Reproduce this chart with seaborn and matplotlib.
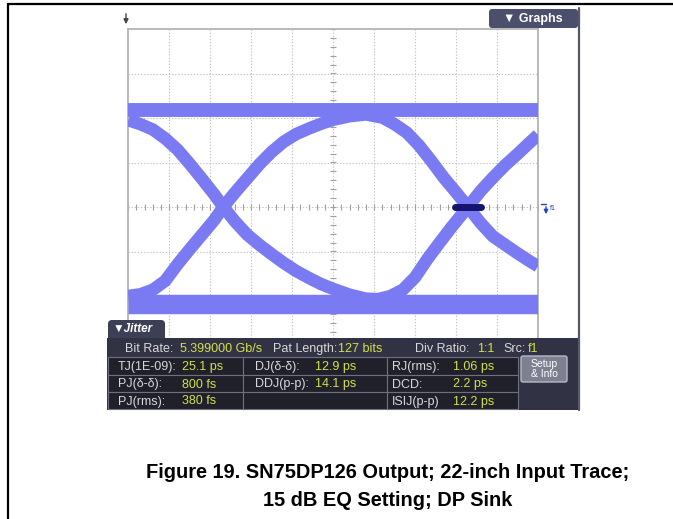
import matplotlib
matplotlib.use('Agg')
import numpy as np
import pandas as pd
import matplotlib.pyplot as plt
import seaborn as sns
from matplotlib.patches import FancyBboxPatch, Rectangle

# --- eye diagram traces ---
# x, y in graticule divisions (x: 0..10, y: 0 = centre line, +-4 = edges)
rail_x = [0.0, 10.0]
top_rail_y = [2.18, 2.18]
bottom_rail_y = [-2.17, -2.17]

# 0 -> 1 -> 0 trace (rises through left crossing, falls through right one)
dome_x = [0.0, 0.3, 0.6, 0.9, 1.2, 1.5, 1.8, 2.1, 2.32, 2.6, 2.9, 3.2, 3.5, 3.8,
          4.1, 4.4, 4.7, 5.0, 5.4, 5.8, 6.2, 6.5, 6.8, 7.1, 7.4, 7.7, 8.0, 8.29,
          8.6, 8.9, 9.2, 9.5, 9.8, 10.0]
dome_y = [-2.00, -1.96, -1.86, -1.66, -1.29, -0.95, -0.62, -0.29, 0.0, 0.32, 0.64,
          0.96, 1.24, 1.47, 1.64, 1.76, 1.87, 1.96, 2.04, 2.08, 2.01, 1.86, 1.67,
          1.38, 1.03, 0.66, 0.33, 0.0, -0.36, -0.66, -0.85, -1.04, -1.22, -1.33]

# 1 -> 0 -> 1 trace (falls through left crossing, rises through right one)
bowl_x = [0.0, 0.3, 0.6, 0.9, 1.2, 1.5, 1.8, 2.1, 2.32, 2.6, 2.9, 3.2, 3.5, 3.8,
          4.1, 4.4, 4.7, 5.0, 5.4, 5.8, 6.1, 6.4, 6.7, 7.0, 7.3, 7.6, 7.9, 8.29,
          8.6, 8.9, 9.2, 9.5, 9.8, 10.0]
bowl_y = [1.95, 1.86, 1.74, 1.54, 1.29, 0.97, 0.63, 0.28, 0.0, -0.32, -0.62, -0.85,
          -1.06, -1.26, -1.44, -1.59, -1.73, -1.84, -1.97, -2.06, -2.07, -2.00,
          -1.86, -1.58, -1.17, -0.80, -0.44, 0.0, 0.36, 0.66, 0.94, 1.19, 1.45, 1.62]

# dense hit spot at the right crossing
spot_x = [7.97, 8.62]
spot_y = [0.0, 0.0]

# --- jitter readout ---
header_labels = ['Bit Rate:', 'Pat Length:', 'Div Ratio:', 'Src:']
header_values = ['5.399000 Gb/s', '127 bits', '1:1', 'f1']
jitter_labels = [['TJ(1E-09):', 'DJ(δ-δ):', 'RJ(rms):'],
                 ['PJ(δ-δ):', 'DDJ(p-p):', 'DCD:'],
                 ['PJ(rms):', '', 'ISIJ(p-p)']]
jitter_values = [['25.1 ps', '12.9 ps', '1.06 ps'],
                 ['800 fs', '14.1 ps', '2.2 ps'],
                 ['380 fs', '', '12.2 ps']]

caption = ['Figure 19. SN75DP126 Output; 22-inch Input Trace;',
           '15 dB EQ Setting; DP Sink']

trace_color = '#7a7af2'
label_color = '#d8d8dc'
value_color = '#d4e04a'

sns.set_style('white')
plt.rcParams['font.family'] = ['Liberation Sans', 'DejaVu Sans']

W, H = 673, 519
fig = plt.figure(figsize=(W / 100, H / 100), dpi=100)

# eye axes: graticule spans px x 128..538, y 29..385
ax = fig.add_axes([128.3 / W, 1 - 385 / H, 409.7 / W, 356 / H], zorder=1)
ax.set_xlim(0, 10)
ax.set_ylim(-4, 4)
ax.set_xticks([])
ax.set_yticks([])
for s in ax.spines.values():
    s.set_color('#b4b4b4')
    s.set_linewidth(1.3)

grid_kw = dict(color='#c4c4c4', linestyle=(0, (1.2, 1.6)), linewidth=0.8, zorder=0)
for gx in range(1, 10):
    ax.axvline(gx, **grid_kw)
for gy in range(-3, 4):
    ax.axhline(gy, **grid_kw)
# centre lines carry minor tick marks every 0.2 division
minor = np.arange(0, 10.01, 0.2)
ax.plot(minor, np.zeros_like(minor), '|', color='#a0a0a0', markersize=4, mew=0.8, zorder=0.5)
minor_y = np.arange(-4, 4.01, 0.2)
ax.plot(np.full_like(minor_y, 5.0), minor_y, '_', color='#a0a0a0', markersize=4, mew=0.8, zorder=0.5)

rails = pd.DataFrame({'x': rail_x * 2, 'y': top_rail_y + bottom_rail_y,
                      'trace': ['top'] * 2 + ['bottom'] * 2})
sns.lineplot(data=rails[rails.trace == 'top'], x='x', y='y', ax=ax, color=trace_color,
             linewidth=10, solid_capstyle='butt', estimator=None, zorder=3)
sns.lineplot(data=rails[rails.trace == 'bottom'], x='x', y='y', ax=ax, color=trace_color,
             linewidth=14, solid_capstyle='butt', estimator=None, zorder=3)
sns.lineplot(x=dome_x, y=dome_y, ax=ax, color=trace_color, linewidth=9,
             solid_capstyle='butt', solid_joinstyle='round', estimator=None, sort=False, zorder=3)
sns.lineplot(x=bowl_x, y=bowl_y, ax=ax, color=trace_color, linewidth=9,
             solid_capstyle='butt', solid_joinstyle='round', estimator=None, sort=False, zorder=3)
sns.lineplot(x=spot_x, y=spot_y, ax=ax, color='#14146e', linewidth=5,
             solid_capstyle='round', estimator=None, zorder=4)
ax.set_xlabel('')
ax.set_ylabel('')

# overlay in pixel coordinates for the scope chrome, page frame and caption
ui = fig.add_axes([0, 0, 1, 1], zorder=2)
ui.set_xlim(0, W)
ui.set_ylim(H, 0)
ui.axis('off')
ui.patch.set_alpha(0)

# page frame
ui.plot([8, W], [4, 4], color='black', linewidth=1.6)
ui.plot([8, 8], [4, H], color='black', linewidth=1.6)

# screen right border
ui.plot([579, 579], [8, 410], color='#55576a', linewidth=1.6)

# trigger marker at top left
ui.annotate('', xy=(126, 27), xytext=(126, 11),
            arrowprops=dict(arrowstyle='-|>', color='#444444', lw=1.0, mutation_scale=7))

# Graphs tab
ui.add_patch(FancyBboxPatch((489, 9), 89, 19, boxstyle='round,pad=0,rounding_size=3',
                            facecolor='#4b4f6b', edgecolor='none'))
ui.text(533, 19, '▼ Graphs', color='white', fontsize=9, fontweight='bold',
        ha='center', va='center')

# f1 marker on the right of the centre line
ui.annotate('', xy=(546, 217), xytext=(546, 204),
            arrowprops=dict(arrowstyle='-|>', color='#2040d0', lw=1.0, mutation_scale=6))
ui.plot([541, 546], [204, 204], color='#2040d0', linewidth=1.0)
ui.text(550, 209, 'f1', color='#2040d0', fontsize=5, ha='left', va='center')

# Jitter tab and panel
ui.add_patch(FancyBboxPatch((108, 320), 57, 22, boxstyle='round,pad=0,rounding_size=4',
                            facecolor='#3c3f55', edgecolor='none'))
ui.text(113, 329, '▼Jitter', color='white', fontsize=8.5, fontweight='bold',
        fontstyle='italic', ha='left', va='center')
ui.add_patch(Rectangle((107, 338), 472, 72, facecolor='#313344', edgecolor='none'))

# header row
hx_label = [125, 273, 415, 503]
hx_value = [180, 338, 477, 528]
for lab, val, xl, xv in zip(header_labels, header_values, hx_label, hx_value):
    ui.text(xl, 349, lab, color=label_color, fontsize=9, ha='left', va='center')
    ui.text(xv, 349, val, color=value_color, fontsize=9, ha='left', va='center')

# table cells
col_edges = [108, 243, 387, 518]
row_edges = [357, 375, 392, 409]
for r in range(3):
    for c in range(3):
        ui.add_patch(Rectangle((col_edges[c], row_edges[r]), col_edges[c + 1] - col_edges[c],
                               row_edges[r + 1] - row_edges[r], facecolor='#1f2029',
                               edgecolor='#6e7080', linewidth=0.8))
label_x = [118, 255, 392]
value_x = [182, 315, 453]
for r in range(3):
    yc = (row_edges[r] + row_edges[r + 1]) / 2 + 1
    for c in range(3):
        if jitter_labels[r][c]:
            ui.text(label_x[c], yc, jitter_labels[r][c], color=label_color, fontsize=9,
                    ha='left', va='center')
        if jitter_values[r][c]:
            ui.text(value_x[c], yc, jitter_values[r][c], color=value_color, fontsize=9,
                    ha='left', va='center')

# Setup & Info button
ui.add_patch(FancyBboxPatch((521, 356), 46, 26, boxstyle='round,pad=0,rounding_size=2',
                            facecolor='#7d8090', edgecolor='#b8bac4', linewidth=1.0))
ui.text(544, 369, 'Setup\n& Info', color='white', fontsize=7.5, ha='center', va='center',
        linespacing=0.9)

# caption
ui.text(388, 472, caption[0], fontsize=14.4, fontweight='bold', ha='center', va='center',
        color='black')
ui.text(388, 500, caption[1], fontsize=14.4, fontweight='bold', ha='center', va='center',
        color='black')

fig.savefig('out.png', dpi=100)
